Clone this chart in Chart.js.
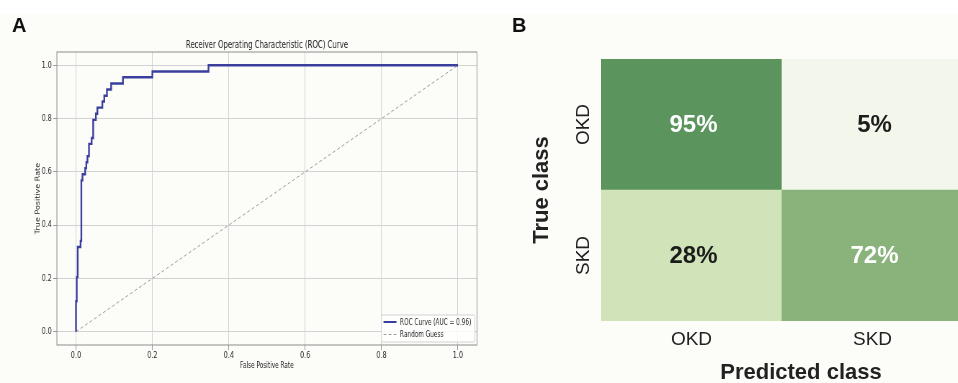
<!DOCTYPE html>
<html lang="en">

<head>
    <meta charset="UTF-8">
    <title>ROC e matriz de confusao</title>
    <script src="https://cdn.jsdelivr.net/npm/chart.js"></script>
    <style>
        html, body { margin: 0; padding: 0; }
        body {
            width: 958px; height: 383px; overflow: hidden; position: relative;
            background: #fcfcf9; font-family: 'Liberation Sans', Arial, sans-serif;
        }
        #faixa { position: absolute; left: 0; top: 0; width: 958px; height: 14px; background: #ffffff; }
        .letra { position: absolute; font-weight: bold; font-size: 20px; line-height: 20px; color: #111; }
        /* o painel A foi achatado na horizontal na figura original */
        #box_roc { position: absolute; left: 0; top: 0; width: 680px; height: 383px; transform: scaleX(0.72); transform-origin: 0 0; }
        #box_matriz { position: absolute; left: 490px; top: 0; width: 480px; height: 383px; }
    </style>
</head>

<body>
    <div id="faixa"></div>
    <div id="box_roc"><canvas id="graf_roc"></canvas></div>
    <div id="box_matriz"><canvas id="graf_matriz"></canvas></div>
    <div class="letra" style="left:12px; top:15px;">A</div>
    <div class="letra" style="left:512px; top:15px;">B</div>
</body>

</html>

<script>
    // ---- dados do painel A (curva ROC) ----
    const fpr = [0, 0, 0.002, 0.002, 0.0045, 0.0045, 0.012, 0.012, 0.014, 0.014, 0.017, 0.017,
        0.024, 0.024, 0.027, 0.027, 0.030, 0.030, 0.034, 0.034, 0.041, 0.041, 0.045, 0.045,
        0.052, 0.052, 0.056, 0.056, 0.069, 0.069, 0.074, 0.074, 0.081, 0.081, 0.092, 0.092,
        0.123, 0.123, 0.200, 0.200, 0.347, 0.347, 1.0];
    const tpr = [0, 0.114, 0.114, 0.205, 0.205, 0.318, 0.318, 0.341, 0.341, 0.568, 0.568, 0.591,
        0.591, 0.614, 0.614, 0.636, 0.636, 0.659, 0.659, 0.705, 0.705, 0.727, 0.727, 0.795,
        0.795, 0.818, 0.818, 0.841, 0.841, 0.864, 0.864, 0.886, 0.886, 0.909, 0.909, 0.932,
        0.932, 0.955, 0.955, 0.977, 0.977, 1.0, 1.0];
    const acasoX = [0, 1];
    const acasoY = [0, 1];
    const ticksEixo = [0, 0.2, 0.4, 0.6, 0.8, 1.0];
    const rotuloRoc = 'ROC Curve (AUC = 0.96)';
    const rotuloAcaso = 'Random Guess';

    // ---- dados do painel B (matriz de confusao, %) ----
    const classesPreditas = ['OKD', 'SKD'];
    const classesReais = ['OKD', 'SKD'];
    const linhaOKD = [95, 5];
    const linhaSKD = [28, 72];

    var fonteA = "'DejaVu Sans', sans-serif";
    var fonteB = "'Liberation Sans', Arial, sans-serif";

    // moldura, titulo e legenda do painel A
    var molduraRoc = {
        id: 'molduraRoc',
        afterDraw(chart) {
            const ctx = chart.ctx, ca = chart.chartArea;
            ctx.save();
            ctx.strokeStyle = '#8c8c8c';
            ctx.lineWidth = 1;
            ctx.strokeRect(ca.left, ca.top, ca.right - ca.left, ca.bottom - ca.top);

            ctx.fillStyle = '#222';
            ctx.font = '9.6px ' + fonteA;
            ctx.textAlign = 'center';
            ctx.textBaseline = 'middle';
            ctx.fillText('Receiver Operating Characteristic (ROC) Curve', (ca.left + ca.right) / 2, 45);

            // legenda
            ctx.font = '8px ' + fonteA;
            ctx.textAlign = 'left';
            const sets = chart.data.datasets;
            let larg = 0;
            sets.forEach(d => { larg = Math.max(larg, ctx.measureText(d.label).width); });
            const w = 26 + larg + 5, h = 27;
            const x0 = ca.right - 3 - w, y0 = ca.bottom - 3 - h;
            ctx.fillStyle = 'rgba(255,255,255,0.85)';
            ctx.strokeStyle = '#d2d2d2';
            ctx.beginPath();
            ctx.roundRect(x0, y0, w, h, 2);
            ctx.fill();
            ctx.stroke();
            sets.forEach((d, i) => {
                const yy = y0 + 7 + i * 12.5;
                ctx.strokeStyle = d.borderColor;
                ctx.lineWidth = Math.min(d.borderWidth, 2);
                ctx.setLineDash(d.borderDash || []);
                ctx.beginPath();
                ctx.moveTo(x0 + 3, yy);
                ctx.lineTo(x0 + 21, yy);
                ctx.stroke();
                ctx.setLineDash([]);
                ctx.fillStyle = '#222';
                ctx.fillText(d.label, x0 + 26, yy + 0.5);
            });
            ctx.restore();
        }
    };

    var ctxRoc = document.getElementById('graf_roc');
    var grafRoc = new Chart(ctxRoc, {
        type: 'line',
        data: {
            datasets: [{
                label: rotuloRoc,
                data: fpr.map((x, i) => ({ x: x, y: tpr[i] })),
                borderColor: '#3a3f9e',
                borderWidth: 2.4,
                pointRadius: 0,
                tension: 0
            }, {
                label: rotuloAcaso,
                data: acasoX.map((x, i) => ({ x: x, y: acasoY[i] })),
                borderColor: '#9b9b9b',
                borderWidth: 1,
                borderDash: [4, 3],
                pointRadius: 0
            }]
        },
        options: {
            animation: false,
            responsive: true,
            maintainAspectRatio: false,
            layout: { padding: { top: 52, right: 17.5, left: 0, bottom: 0 } },
            plugins: { legend: { display: false }, tooltip: { enabled: false } },
            scales: {
                x: {
                    type: 'linear', min: -0.05, max: 1.05,
                    afterBuildTicks: s => { s.ticks = ticksEixo.map(v => ({ value: v })); },
                    afterFit: s => { s.height = 38; },
                    ticks: { callback: v => v.toFixed(1), font: { family: fonteA, size: 9 }, color: '#2a2a2a', padding: 0, maxRotation: 0 },
                    grid: { color: '#d2d2d2', tickColor: '#9a9a9a', tickLength: 5 },
                    border: { display: false },
                    title: { display: true, text: 'False Positive Rate', font: { family: fonteA, size: 8 }, color: '#222', padding: { top: 0, bottom: 12 } }
                },
                y: {
                    type: 'linear', min: -0.05, max: 1.05,
                    afterBuildTicks: s => { s.ticks = ticksEixo.map(v => ({ value: v })); },
                    afterFit: s => { s.width = 79; },
                    ticks: { callback: v => v.toFixed(1), font: { family: fonteA, size: 9 }, color: '#2a2a2a', padding: 2 },
                    grid: { color: '#d2d2d2', tickColor: '#9a9a9a', tickLength: 5 },
                    border: { display: false },
                    title: { display: true, text: 'True Positive Rate', font: { family: fonteA, size: 8 }, color: '#222', padding: { top: 48, bottom: 0 } }
                }
            }
        },
        plugins: [molduraRoc]
    });

    // escala de verdes a partir das cores da figura
    var paradas = [[5, [243, 246, 234]], [28, [209, 228, 185]], [72, [138, 178, 123]], [95, [91, 148, 92]]];
    function corCelula(p) {
        for (let i = 1; i < paradas.length; i++) {
            if (p <= paradas[i][0]) {
                const a = paradas[i - 1], b = paradas[i];
                const t = Math.max(0, (p - a[0]) / (b[0] - a[0]));
                const c = a[1].map((v, k) => Math.round(v + (b[1][k] - v) * t));
                return 'rgb(' + c.join(',') + ')';
            }
        }
        return 'rgb(91,148,92)';
    }

    // textos das celulas e titulo do eixo x
    var textosMatriz = {
        id: 'textosMatriz',
        afterDatasetsDraw(chart) {
            const ctx = chart.ctx;
            ctx.save();
            ctx.textAlign = 'center';
            ctx.textBaseline = 'middle';
            ctx.font = 'bold 24px ' + fonteB;
            chart.data.datasets.forEach((d, i) => {
                chart.getDatasetMeta(i).data.forEach((el, j) => {
                    const p = d.pct[j];
                    ctx.fillStyle = p > 50 ? '#ffffff' : '#1c1c1c';
                    ctx.fillText(p + '%', el.x + 2, (el.y + el.base) / 2 + 1);
                });
            });
            const ca = chart.chartArea;
            ctx.fillStyle = '#222';
            ctx.font = 'bold 22px ' + fonteB;
            ctx.fillText('Predicted class', (ca.left + ca.right) / 2 + 19, 373);
            ctx.restore();
        }
    };

    var ctxMatriz = document.getElementById('graf_matriz');
    var grafMatriz = new Chart(ctxMatriz, {
        type: 'bar',
        data: {
            labels: classesPreditas,
            datasets: [{
                label: classesReais[1],
                data: classesPreditas.map(() => 1),
                pct: linhaSKD,
                backgroundColor: linhaSKD.map(corCelula),
                barPercentage: 1,
                categoryPercentage: 1
            }, {
                label: classesReais[0],
                data: classesPreditas.map(() => 1),
                pct: linhaOKD,
                backgroundColor: linhaOKD.map(corCelula),
                barPercentage: 1,
                categoryPercentage: 1
            }]
        },
        options: {
            animation: false,
            responsive: true,
            maintainAspectRatio: false,
            layout: { padding: { top: 59, right: 7, left: 0, bottom: 0 } },
            plugins: { legend: { display: false }, tooltip: { enabled: false } },
            scales: {
                x: {
                    stacked: true,
                    grid: { display: false },
                    border: { display: false },
                    afterFit: s => { s.height = 62; },
                    ticks: { font: { family: fonteB, size: 19 }, color: '#222', padding: -1 }
                },
                y: {
                    stacked: true, min: 0, max: 2,
                    grid: { display: false },
                    border: { display: false },
                    afterBuildTicks: s => { s.ticks = [{ value: 0.5 }, { value: 1.5 }]; },
                    afterFit: s => { s.width = 111; },
                    ticks: {
                        callback: v => classesReais[v < 1 ? 1 : 0],
                        minRotation: 90, maxRotation: 90, crossAlign: 'center', padding: -11,
                        font: { family: fonteB, size: 19 }, color: '#222'
                    },
                    title: { display: true, text: 'True class', font: { family: fonteB, size: 22, weight: 'bold' }, color: '#222', padding: { top: 39, bottom: 0 } }
                }
            }
        },
        plugins: [textosMatriz]
    });
</script>
